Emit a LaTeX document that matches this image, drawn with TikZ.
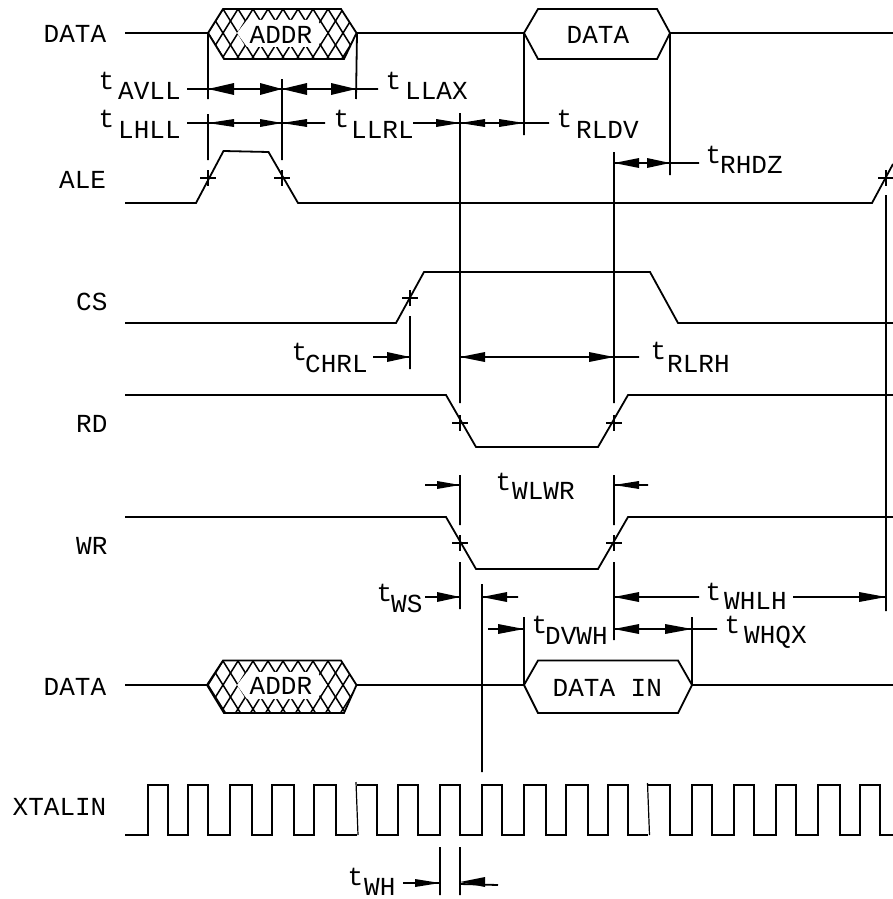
\documentclass[tikz,border=0pt]{standalone}
\usepackage{fontspec}
\setmainfont{Liberation Mono}
\tikzset{
  wire/.style={line width=1.8pt,line join=miter},
  tick/.style={line width=1.8pt},
  thin cross/.style={line width=1.5pt},
  hatch/.style={line width=1.5pt},
  head/.style={fill=black,draw=none},
  lbl/.style={inner sep=0pt,anchor=base west,font=\fontsize{26}{26}\selectfont},
}
% \hd{tip x}{y}{base x}{half width}
\newcommand{\hd}[4]{\fill[head] (#1,#2) -- (#3,#2-#4) -- (#3,#2+#4) -- cycle;}
\newcommand{\crs}[2]{\draw[thin cross] (#1-8,#2) -- (#1+8,#2) (#1,#2-8) -- (#1,#2+8);}
% \tl{tx}{ty}{subx}{suby}{text}
\newcommand{\tl}[5]{\node[lbl] at (#1-1.5,#2) {t};\node[lbl] at (#3-1,#4) {#5};}
% hatched ADDR block: \hexh{left}{top}{mid}{bottom}{bottom right x}
\newcommand{\hexh}[4]{%
  \begin{scope}
    \clip (#1,#3) -- (223,#2) -- (341,#2) -- (356.5,#3) -- (344,#4) -- (224,#4) -- cycle;
    \foreach \j in {-3,...,13} {
      \draw[hatch] ({208+15*\j+18},#3-28.8) -- ({208+15*\j-18},#3+28.8);
      \draw[hatch] ({208+15*\j-18},#3-28.8) -- ({208+15*\j+18},#3+28.8);
    }
    \fill[white] (237,#3) -- (247,#3-13) -- (317,#3-13) -- (327,#3) -- (317,#3+14) -- (247,#3+14) -- cycle;
  \end{scope}
  \draw[wire] (#1,#3) -- (223,#2) -- (341,#2) -- (356.5,#3) -- (344,#4) -- (224,#4) -- cycle;
}
\begin{document}
\begin{tikzpicture}[x=1pt,y=-1pt]
\useasboundingbox (0,0) rectangle (893,899);
\fill[white] (0,0) rectangle (893,899);
% signal names
\node[lbl] at (43.5,43) {DATA};
\node[lbl] at (59,188) {ALE};
\node[lbl] at (76,310) {CS};
\node[lbl] at (76,432) {RD};
\node[lbl] at (76,554) {WR};
\node[lbl] at (43.5,695) {DATA};
\node[lbl] at (12.5,815) {XTALIN};
% DATA row 1
\draw[wire] (125,33) -- (208,33) (356.5,33) -- (524,33) (670,33) -- (893,33);
\hexh{208}{9}{33}{59}
\draw[wire] (524,33) -- (538,9) -- (657,9) -- (670,33) -- (657,59) -- (538,59) -- cycle;
\node[lbl] at (249.5,44) {ADDR};
\node[lbl] at (566.5,44) {DATA};
% ALE
\draw[wire] (125,203) -- (196,203) -- (223.5,151) -- (268.5,152) -- (298,203) -- (872,203) -- (893,164);
\crs{208}{178}\crs{282}{178}\crs{886}{178}
% CS
\draw[wire] (125,323) -- (396,323) -- (424,272) -- (650,272) -- (678,323) -- (893,323);
\crs{410}{298}
% RD
\draw[wire] (125,395) -- (446,395) -- (476,447) -- (598,447) -- (628,395) -- (893,395);
\crs{460}{423}\crs{614}{423}
% WR
\draw[wire] (125,517) -- (446,517) -- (476,569) -- (598,569) -- (628,517) -- (893,517);
\crs{460}{543}\crs{614}{543}
% DATA row 2
\draw[wire] (125,685) -- (207,685) (356,685) -- (524,685) (692,685) -- (893,685);
\hexh{207}{660.5}{685}{713}
\draw[wire] (524,685) -- (538,660.5) -- (678,660.5) -- (692,685) -- (678,713) -- (538,713) -- cycle;
\node[lbl] at (249.5,694) {ADDR};
\node[lbl] at (552.5,696) {DATA IN};
% XTALIN
\draw[wire] (125,835) -- (148,835) -- (148,785) -- (168,785) -- (168,835) -- (188,835) -- (188,785) -- (208,785) -- (208,835) -- (230,835) -- (230,785) -- (252,785) -- (252,835) -- (272,835) -- (272,785) -- (294,785) -- (294,835) -- (314,835) -- (314,785) -- (336,785) -- (336,835) -- (357,835);
\draw[wire] (357,785) -- (377,785) -- (377,835) -- (398,835) -- (398,785) -- (418,785) -- (418,835) -- (440,835) -- (440,785) -- (460,785) -- (460,835) -- (482,835) -- (482,785) -- (502,785) -- (502,835) -- (524,835) -- (524,785) -- (546,785) -- (546,835) -- (566,835) -- (566,785) -- (588,785) -- (588,835) -- (608,835) -- (608,785) -- (628,785) -- (628,835) -- (648,835);
\draw[wire] (648,785) -- (670,785) -- (670,835) -- (692,835) -- (692,785) -- (712,785) -- (712,835) -- (734,835) -- (734,785) -- (754,785) -- (754,835) -- (776,835) -- (776,785) -- (796,785) -- (796,835) -- (818,835) -- (818,785) -- (840,785) -- (840,835) -- (860,835) -- (860,785) -- (880,785) -- (880,835) -- (893,835);
\draw[line width=1.2pt] (356,782) -- (358,835) (647.5,783) -- (649.5,835);
% verticals
\draw[tick] (208,33) -- (208,99) (208,114) -- (208,160)
 (282,79) -- (282,160)
 (357,33) -- (356,99)
 (524,33) -- (524,135)
 (670,33) -- (670,175)
 (460,113) -- (460,403) (460,475) -- (460,525) (460,562) -- (460,609)
 (614,152) -- (614,403) (614,475) -- (614,525) (614,562) -- (614,640)
 (886,195) -- (886,611)
 (410,316) -- (410,369)
 (482,584) -- (482,772)
 (524,617) -- (524,685)
 (692,617) -- (692,685)
 (440,847) -- (440,895) (460,847) -- (460,895);
% dimension lines
\draw[tick] (187,89) -- (378,89) (187,123) -- (325,123) (413,123) -- (549,123)
 (614,163) -- (699,163) (373,357) -- (410,357) (460,357) -- (639,357)
 (425,485) -- (460,485) (614,485) -- (648,485)
 (425,597) -- (460,597) (482,597) -- (518,597)
 (488,629) -- (524,629) (614,629) -- (717,629)
 (614,597) -- (699,597) (793,597) -- (886,597)
 (403,883) -- (440,883) (460,884) -- (498,885);
% arrowheads
\hd{208}{89}{234}{6}\hd{282}{89}{260}{6}\hd{282}{89}{307}{6}\hd{356}{89}{331}{6}
\hd{208}{123}{234}{4}\hd{282}{123}{260}{4}\hd{282}{123}{307}{4}\hd{460}{123}{436}{4}\hd{460}{123}{485}{4}\hd{524}{123}{499}{4}
\hd{614}{163}{639}{5}\hd{670}{163}{647}{5}
\hd{410}{357}{387}{5}\hd{460}{357}{485}{5}\hd{614}{357}{589}{5}
\hd{460}{485}{437}{4}\hd{614}{485}{639}{4}
\hd{460}{597}{437}{5}\hd{482}{597}{507}{5}
\hd{524}{629}{498}{5}\hd{614}{629}{639}{5}\hd{692}{629}{665}{5}
\hd{614}{597}{639}{5}\hd{886}{597}{859}{5}
\hd{440}{883}{415}{4}\hd{460}{882}{485}{5}
% timing labels
\tl{100}{89}{119}{99}{AVLL}
\tl{387}{89}{406}{99}{LLAX}
\tl{100}{127}{119}{138}{LHLL}
\tl{335}{127}{352}{138}{LLRL}
\tl{558}{127}{577}{138}{RLDV}
\tl{707}{163}{721}{173}{RHDZ}
\tl{293}{360}{306}{372}{CHRL}
\tl{652}{359}{668}{372}{RLRH}
\tl{497}{490}{513}{499}{WLWR}
\tl{378}{601}{392}{612}{WS}
\tl{533}{633}{546}{644}{DVWH}
\tl{707}{600}{725}{609}{WHLH}
\tl{726}{633}{745}{643}{WHQX}
\tl{349}{885}{365}{895}{WH}
\end{tikzpicture}
\end{document}
